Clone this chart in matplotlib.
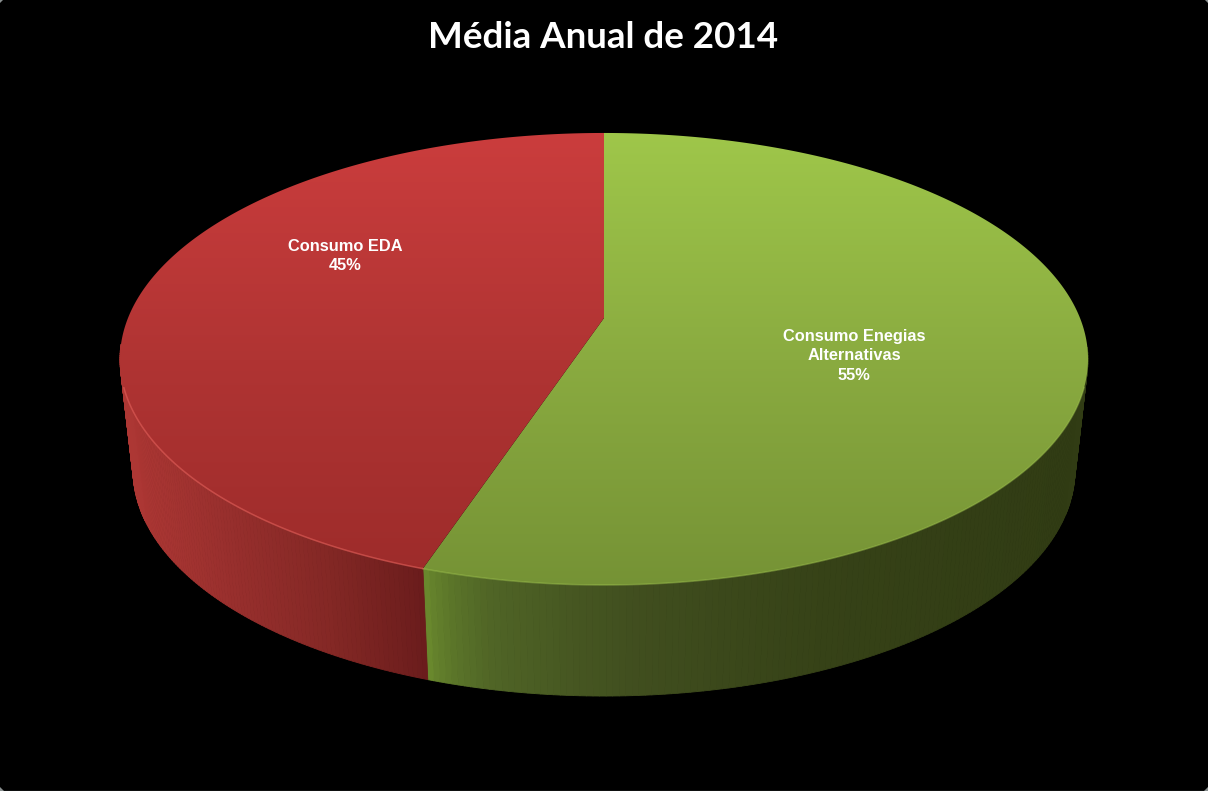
import numpy as np
from matplotlib import pyplot as plt
from matplotlib.collections import PolyCollection
from matplotlib.colors import LinearSegmentedColormap
from matplotlib.patches import PathPatch
from matplotlib.path import Path

title = 'Média Anual de 2014'
categories = ['Consumo Enegias\nAlternativas', 'Consumo EDA']
# the labels round these to 55% and 45%, the slices are drawn a little past 55
shares = [55.1, 44.9]
top_colors = [['#9fc74a', '#8aab40', '#759235'], ['#cb3d3d', '#b03433', '#9c2b2a']]
side_colors = [['#6b8b2e', '#506526', '#414f1f', '#364217', '#313c14'],
               ['#ad3734', '#982f2d', '#842825', '#6a1c1c']]
rim_colors = ['#a9cf55', '#dc5a55']
rim_alpha = [0.4, 0.7]
label_pos = [(854, 356), (345, 256)]

# pie geometry in pixels, circle goes through a perspective so the apex is off centre
cx, apex_y = 604, 318
a, b, p = 476, 218.6, 0.1814
depth, base_scale = 111, 0.973


def project(theta, scale=1.0, drop=0.0):
    # theta is clockwise from the top of the pie
    u, v = np.sin(theta), -np.cos(theta)
    return cx + scale * a * u / (1 - p * v), apex_y + drop + b * v / (1 - p * v)


fig = plt.figure(figsize=(12.08, 7.91), dpi=100, facecolor='black')
ax = fig.add_axes([0, 0, 1, 1])
ax.axis('off')

edges = np.cumsum([0] + shares) / sum(shares) * 2 * np.pi
for i in range(len(shares)):
    theta = np.linspace(edges[i], edges[i + 1], 300)
    tx, ty = project(theta)
    bx, by = project(theta, base_scale, depth)

    # side wall, small quads shaded by their x position
    quads = [[(tx[j], ty[j]), (tx[j + 1], ty[j + 1]), (bx[j + 1], by[j + 1]), (bx[j], by[j])]
             for j in range(len(theta) - 1)]
    side_cmap = LinearSegmentedColormap.from_list('side', side_colors[i])
    if i == 0:
        side_pos = np.clip(((tx[:-1] + tx[1:]) / 2 - 425) / 650, 0, 1) ** 0.6
    else:
        side_pos = np.clip(((tx[:-1] + tx[1:]) / 2 - 125) / 300, 0, 1)
    keep = np.cos(theta[:-1]) < -0.12
    ax.add_collection(PolyCollection(np.array(quads)[keep], facecolors=side_cmap(side_pos[keep]),
                                     edgecolors=side_cmap(side_pos[keep]), linewidths=0.6))

for i in range(len(shares)):
    theta = np.linspace(edges[i], edges[i + 1], 300)
    tx, ty = project(theta)
    verts = np.column_stack([np.r_[cx, tx, cx], np.r_[apex_y, ty, apex_y]])
    codes = [Path.MOVETO] + [Path.LINETO] * (len(verts) - 2) + [Path.CLOSEPOLY]
    clip = PathPatch(Path(verts, codes), facecolor='none', edgecolor='none')
    ax.add_patch(clip)
    top_cmap = LinearSegmentedColormap.from_list('top', top_colors[i])
    im = ax.imshow(np.linspace(0, 1, 256).reshape(-1, 1), cmap=top_cmap, aspect='auto',
                   extent=[100, 1100, 590, 130], zorder=2)
    im.set_clip_path(clip)

    # lighter rim on the front edge
    front = np.cos(theta) < -0.3
    ax.plot(tx[front], ty[front], color=rim_colors[i], lw=1.1, alpha=rim_alpha[i], zorder=3)

for label, share, (x, y) in zip(categories, shares, label_pos):
    ax.text(x, y, f'{label}\n{share:.0f}%', color='white', ha='center', va='center', fontsize=11.8,
            fontweight='bold', family='Liberation Sans', linespacing=1.34, zorder=4)

ax.text(603.5, 38, title, color='white', ha='center', va='center', fontsize=26.5,
        fontweight='bold', family='Lato', zorder=4)

# thin grey frame remains of the original rounded picture
ax.plot([0, 1208], [790.5, 790.5], color='#4a5555', lw=1, zorder=5)
for corner in ([(0, 0), (3, 0), (0, 3)], [(1208, 0), (1205, 0), (1208, 3)],
               [(0, 791), (4, 791), (0, 787)], [(1208, 791), (1204, 791), (1208, 787)]):
    ax.fill(*zip(*corner), color='#8a9090', lw=0, zorder=5)

ax.set_xlim(0, 1208)
ax.set_ylim(791, 0)

fig.savefig('out.png', dpi=100, facecolor='black')
